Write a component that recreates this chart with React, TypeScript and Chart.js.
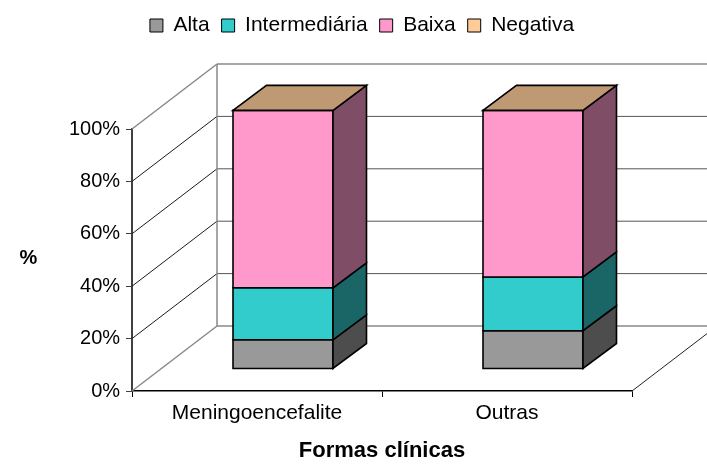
import { useEffect, useRef } from 'react';
import { Chart, registerables } from 'chart.js';

Chart.register(...registerables);

// Categories and series (percent of cases per clinical form)
const categories = ['Meningoencefalite', 'Outras'];
const seriesNames = ['Alta', 'Intermediária', 'Baixa', 'Negativa'];
const alta = [11.3, 14.8];
const intermediaria = [20.1, 20.8];
const baixa = [68.6, 64.4];
const negativa = [0, 0];
const yTickValues = [0, 20, 40, 60, 80, 100];
const xAxisTitle = 'Formas clínicas';
const yAxisTitle = '%';

const faceColors = ['#999999', '#33CCCC', '#FF99CC', '#FFCC99'];

const FONT = "'Liberation Sans', Arial, Helvetica, sans-serif";

// Oblique projection of the 3D box: wall depth and bar depth offsets
const WALL_DX = 85;
const WALL_DY = -65;
const BAR_DX0 = 26;
const BAR_DY0 = -22;
const BAR_DEPTH_X = 33.5;
const BAR_DEPTH_Y = -25;
const BAR_SCALE = 0.987;

function shade(hex: string, f: number): string {
  const n = parseInt(hex.slice(1), 16);
  const r = Math.round(((n >> 16) & 255) * f);
  const g = Math.round(((n >> 8) & 255) * f);
  const b = Math.round((n & 255) * f);
  return `rgb(${r},${g},${b})`;
}

function poly(ctx: CanvasRenderingContext2D, pts: number[][], fill: string) {
  ctx.beginPath();
  ctx.moveTo(pts[0][0], pts[0][1]);
  for (let i = 1; i < pts.length; i++) ctx.lineTo(pts[i][0], pts[i][1]);
  ctx.closePath();
  ctx.fillStyle = fill;
  ctx.fill();
  ctx.stroke();
}

const box3d = {
  id: 'box3d',
  beforeDatasetsDraw(chart: any) {
    const { ctx, chartArea: a, width } = chart;
    const y = chart.scales.y;
    ctx.save();
    // grid lines on the left wall and back wall
    yTickValues.forEach((v) => {
      const py = y.getPixelForValue(v);
      const edge = v === yTickValues[0] || v === yTickValues[yTickValues.length - 1];
      ctx.strokeStyle = edge ? '#888888' : '#1a1a1a';
      ctx.lineWidth = edge ? 1.5 : 1;
      ctx.beginPath();
      ctx.moveTo(a.left, py);
      ctx.lineTo(a.left + WALL_DX, py + WALL_DY);
      ctx.stroke();
      ctx.strokeStyle = edge ? '#888888' : '#555555';
      ctx.beginPath();
      ctx.moveTo(a.left + WALL_DX, py + WALL_DY);
      ctx.lineTo(width, py + WALL_DY);
      ctx.stroke();
    });
    // back wall corner edge
    ctx.strokeStyle = '#888888';
    ctx.lineWidth = 1.5;
    ctx.beginPath();
    ctx.moveTo(a.left + WALL_DX, a.top + WALL_DY);
    ctx.lineTo(a.left + WALL_DX, a.bottom + WALL_DY);
    ctx.stroke();
    // right edge of the floor
    ctx.strokeStyle = '#222222';
    ctx.lineWidth = 1;
    ctx.beginPath();
    ctx.moveTo(a.right, a.bottom);
    ctx.lineTo(a.right + WALL_DX, a.bottom + WALL_DY);
    ctx.stroke();
    ctx.restore();
  },
  beforeDatasetDraw() {
    return false;
  },
  afterDatasetsDraw(chart: any) {
    const { ctx, chartArea: a } = chart;
    const n = chart.data.datasets.length;
    const fy = (p: number) => a.bottom + BAR_DY0 - (a.bottom - p) * BAR_SCALE;
    ctx.save();
    ctx.strokeStyle = '#000000';
    ctx.lineWidth = 1.6;
    ctx.lineJoin = 'miter';
    for (let i = 0; i < chart.data.labels.length; i++) {
      let topY = 0;
      let xl = 0;
      let xr = 0;
      for (let d = 0; d < n; d++) {
        const el = chart.getDatasetMeta(d).data[i];
        const { x, y, base, width } = el.getProps(['x', 'y', 'base', 'width'], true);
        xl = x - width / 2 + BAR_DX0;
        xr = x + width / 2 + BAR_DX0;
        const yt = fy(y);
        const yb = fy(base);
        topY = yt;
        if (yb - yt < 0.5) continue;
        const col = faceColors[d];
        poly(ctx, [[xl, yt], [xr, yt], [xr, yb], [xl, yb]], col);
        poly(
          ctx,
          [
            [xr, yt],
            [xr + BAR_DEPTH_X, yt + BAR_DEPTH_Y],
            [xr + BAR_DEPTH_X, yb + BAR_DEPTH_Y],
            [xr, yb],
          ],
          shade(col, 0.5)
        );
      }
      poly(
        ctx,
        [
          [xl, topY],
          [xl + BAR_DEPTH_X, topY + BAR_DEPTH_Y],
          [xr + BAR_DEPTH_X, topY + BAR_DEPTH_Y],
          [xr, topY],
        ],
        shade(faceColors[n - 1], 0.75)
      );
    }
    ctx.restore();
  },
  afterDraw(chart: any) {
    const { ctx } = chart;
    ctx.save();
    ctx.font = `bold 20px ${FONT}`;
    ctx.fillStyle = '#000000';
    ctx.textAlign = 'center';
    ctx.textBaseline = 'middle';
    ctx.fillText(yAxisTitle, 28.5, 258);
    ctx.restore();
  },
};

export default function App() {
  const ref = useRef<HTMLCanvasElement | null>(null);

  useEffect(() => {
    if (!ref.current) return;
    Chart.defaults.font.family = FONT;
    Chart.defaults.color = '#000000';
    const values = [alta, intermediaria, baixa, negativa];
    const chart = new Chart(ref.current, {
      type: 'bar',
      data: {
        labels: categories,
        datasets: seriesNames.map((name, k) => ({
          label: name,
          data: values[k],
          backgroundColor: faceColors[k],
          borderColor: '#000000',
          borderWidth: 1,
          barPercentage: 0.4,
          categoryPercentage: 1,
        })),
      },
      options: {
        responsive: false,
        animation: false,
        layout: { padding: { left: 92, right: 75, top: 3, bottom: 0 } },
        plugins: {
          legend: {
            position: 'top',
            align: 'center',
            labels: {
              font: { size: 21 },
              boxWidth: 13,
              boxHeight: 13,
              padding: 12,
              color: '#000000',
            },
          },
          title: {
            display: true,
            text: '',
            position: 'top',
            weight: 500,
            font: { size: 10 },
            padding: { top: 71, bottom: 0 },
          },
          tooltip: { enabled: false },
        },
        scales: {
          x: {
            stacked: true,
            offset: true,
            grid: {
              offset: true,
              drawOnChartArea: false,
              drawTicks: true,
              tickLength: 6,
              color: '#000000',
            },
            border: { color: '#000000', width: 1.5 },
            ticks: {
              font: { size: 21 },
              color: '#000000',
              padding: 4,
              maxRotation: 0,
              autoSkip: false,
            },
            title: {
              display: true,
              text: xAxisTitle,
              font: { size: 22, weight: 'bold' },
              color: '#000000',
              padding: { top: 0, bottom: 0 },
            },
            afterFit(s: any) {
              s.height = 73;
            },
          },
          y: {
            stacked: true,
            min: 0,
            max: 100,
            grid: {
              drawOnChartArea: false,
              drawTicks: true,
              tickLength: 6,
              color: '#404040',
            },
            border: { color: '#404040', width: 2 },
            ticks: {
              stepSize: 20,
              font: { size: 20 },
              color: '#000000',
              // labels sit left of the axis, right-aligned 12px from it
              mirror: true,
              crossAlign: 'far',
              padding: -63,
              callback: (v: any) => `${v}%`,
            },
            afterFit(s: any) {
              s.width = 40;
            },
          },
        },
      },
      plugins: [box3d],
    } as any);
    return () => chart.destroy();
  }, []);

  return (
    <div style={{ position: 'fixed', left: 0, top: 0, width: 707, height: 464, background: '#ffffff' }}>
      <canvas ref={ref} width={707} height={464} />
    </div>
  );
}
